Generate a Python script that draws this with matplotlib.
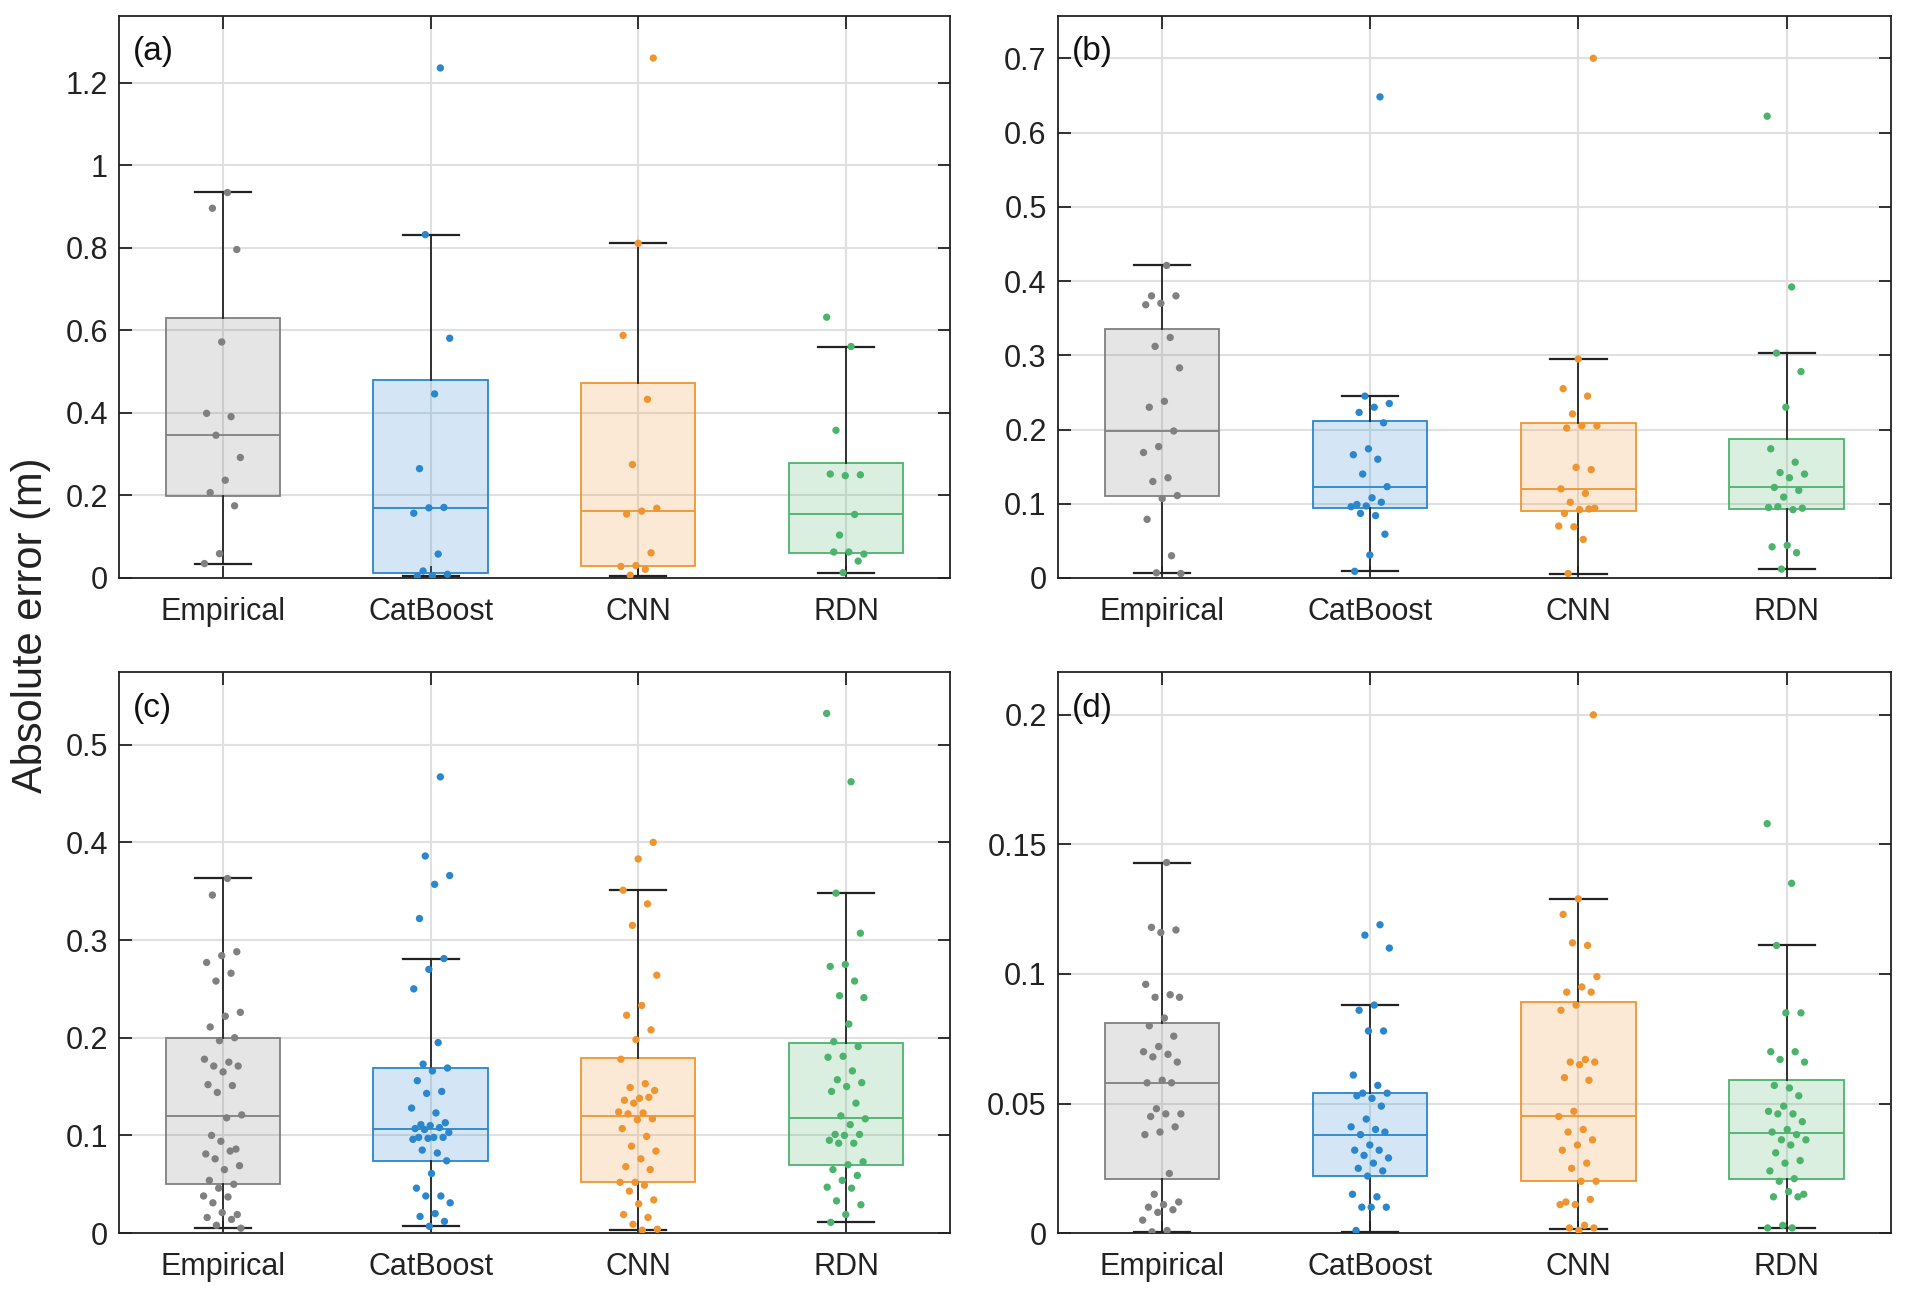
import numpy as np
import matplotlib
matplotlib.use('Agg')
import matplotlib.pyplot as plt
from matplotlib.ticker import FuncFormatter

plt.rcParams['font.family'] = ['Liberation Sans', 'DejaVu Sans']

groups = ['Empirical', 'CatBoost', 'CNN', 'RDN']
tags = ['(a)', '(b)', '(c)', '(d)']
colors = ['#808080', '#2A86CD', '#EF9530', '#4CB36C']

# ---- panel (a) ----
a_emp = [0.934, 0.896, 0.796, 0.572, 0.399, 0.391, 0.346, 0.292, 0.237, 0.207, 0.175, 0.059, 0.035]
a_cat = [1.236, 0.832, 0.581, 0.446, 0.265, 0.171, 0.170, 0.157, 0.058, 0.017, 0.009, 0.006, 0.005]
a_cnn = [1.260, 0.811, 0.588, 0.433, 0.275, 0.169, 0.162, 0.155, 0.061, 0.030, 0.028, 0.021, 0.007]
a_rdn = [0.632, 0.561, 0.358, 0.250, 0.248, 0.252, 0.154, 0.104, 0.058, 0.063, 0.063, 0.041, 0.013]
a_q1 = [0.199, 0.012, 0.029, 0.060]
a_med = [0.346, 0.170, 0.162, 0.154]
a_q3 = [0.629, 0.480, 0.473, 0.279]
a_lo = [0.035, 0.006, 0.006, 0.013]
a_hi = [0.935, 0.832, 0.811, 0.561]

# ---- panel (b) ----
b_emp = [0.421, 0.380, 0.380, 0.370, 0.368, 0.324, 0.312, 0.283, 0.238, 0.230, 0.198,
         0.177, 0.169, 0.135, 0.130, 0.111, 0.107, 0.079, 0.030, 0.007, 0.006]
b_cat = [0.648, 0.245, 0.235, 0.230, 0.223, 0.209, 0.174, 0.166, 0.160, 0.140, 0.123,
         0.108, 0.099, 0.102, 0.097, 0.096, 0.084, 0.087, 0.059, 0.031, 0.009]
b_cnn = [0.700, 0.295, 0.255, 0.245, 0.221, 0.205, 0.205, 0.202, 0.146, 0.149, 0.120,
         0.114, 0.102, 0.094, 0.092, 0.087, 0.093, 0.069, 0.070, 0.052, 0.006]
b_rdn = [0.622, 0.392, 0.303, 0.278, 0.230, 0.174, 0.156, 0.142, 0.140, 0.135, 0.122,
         0.118, 0.109, 0.095, 0.092, 0.096, 0.094, 0.044, 0.042, 0.034, 0.012]
b_q1 = [0.110, 0.094, 0.090, 0.093]
b_med = [0.198, 0.123, 0.120, 0.122]
b_q3 = [0.335, 0.212, 0.209, 0.187]
b_lo = [0.007, 0.009, 0.006, 0.012]
b_hi = [0.421, 0.245, 0.295, 0.303]

# ---- panel (c) ----
c_emp = [0.363, 0.346, 0.288, 0.284, 0.277, 0.266, 0.258, 0.226, 0.222, 0.211, 0.200,
         0.197, 0.178, 0.175, 0.171, 0.171, 0.165, 0.152, 0.151, 0.144, 0.121, 0.118,
         0.100, 0.086, 0.094, 0.081, 0.084, 0.076, 0.069, 0.065, 0.054, 0.050, 0.046,
         0.038, 0.037, 0.031, 0.019, 0.021, 0.016, 0.014, 0.008, 0.005]
c_cat = [0.467, 0.386, 0.366, 0.357, 0.322, 0.281, 0.270, 0.250, 0.195, 0.173, 0.169,
         0.166, 0.156, 0.145, 0.143, 0.128, 0.123, 0.111, 0.113, 0.110, 0.107, 0.108,
         0.106, 0.103, 0.098, 0.098, 0.098, 0.097, 0.096, 0.082, 0.085, 0.074, 0.061,
         0.046, 0.038, 0.038, 0.031, 0.020, 0.017, 0.012, 0.007]
c_cnn = [0.400, 0.383, 0.351, 0.337, 0.315, 0.264, 0.233, 0.223, 0.208, 0.198, 0.178,
         0.153, 0.149, 0.146, 0.138, 0.136, 0.139, 0.133, 0.124, 0.123, 0.122, 0.117,
         0.116, 0.107, 0.099, 0.089, 0.084, 0.076, 0.068, 0.065, 0.052, 0.052, 0.049,
         0.043, 0.034, 0.030, 0.019, 0.016, 0.009, 0.004, 0.003]
c_rdn = [0.532, 0.462, 0.348, 0.307, 0.275, 0.273, 0.258, 0.243, 0.241, 0.214, 0.196,
         0.191, 0.181, 0.180, 0.166, 0.157, 0.154, 0.150, 0.145, 0.133, 0.120, 0.117,
         0.111, 0.101, 0.101, 0.100, 0.095, 0.092, 0.092, 0.073, 0.070, 0.065, 0.059,
         0.054, 0.047, 0.046, 0.033, 0.029, 0.019, 0.011]
c_q1 = [0.050, 0.074, 0.052, 0.070]
c_med = [0.120, 0.107, 0.120, 0.118]
c_q3 = [0.200, 0.169, 0.179, 0.195]
c_lo = [0.005, 0.007, 0.003, 0.011]
c_hi = [0.363, 0.281, 0.351, 0.348]

# ---- panel (d) ----
d_emp = [0.143, 0.118, 0.117, 0.116, 0.096, 0.092, 0.091, 0.091, 0.083, 0.080, 0.076,
         0.072, 0.070, 0.069, 0.068, 0.066, 0.059, 0.058, 0.058, 0.048, 0.046, 0.046,
         0.045, 0.041, 0.039, 0.038, 0.023, 0.015, 0.012, 0.011, 0.010, 0.009, 0.008,
         0.005, 0.001, 0.0005]
d_cat = [0.119, 0.115, 0.110, 0.088, 0.086, 0.078, 0.078, 0.061, 0.057, 0.054, 0.054,
         0.052, 0.053, 0.049, 0.044, 0.041, 0.040, 0.038, 0.039, 0.034, 0.032, 0.032,
         0.030, 0.029, 0.027, 0.025, 0.024, 0.022, 0.015, 0.014, 0.010, 0.010, 0.010,
         0.001]
d_cnn = [0.200, 0.129, 0.123, 0.111, 0.112, 0.099, 0.095, 0.093, 0.093, 0.088, 0.086,
         0.067, 0.066, 0.066, 0.065, 0.060, 0.059, 0.047, 0.045, 0.040, 0.039, 0.036,
         0.034, 0.032, 0.027, 0.025, 0.020, 0.020, 0.012, 0.013, 0.011, 0.011, 0.003,
         0.002, 0.002, 0.001]
d_rdn = [0.158, 0.135, 0.111, 0.085, 0.085, 0.070, 0.070, 0.067, 0.066, 0.056, 0.057,
         0.053, 0.049, 0.047, 0.046, 0.046, 0.043, 0.040, 0.039, 0.038, 0.036, 0.036,
         0.034, 0.031, 0.028, 0.027, 0.024, 0.021, 0.020, 0.015, 0.016, 0.014, 0.014,
         0.003, 0.002, 0.002]
d_q1 = [0.021, 0.022, 0.020, 0.021]
d_med = [0.058, 0.038, 0.045, 0.0385]
d_q3 = [0.081, 0.054, 0.089, 0.059]
d_lo = [0.0005, 0.0005, 0.0016, 0.002]
d_hi = [0.143, 0.088, 0.129, 0.111]

panels = [
    ([a_emp, a_cat, a_cnn, a_rdn], a_q1, a_med, a_q3, a_lo, a_hi, 1.362, np.arange(0, 1.21, 0.2)),
    ([b_emp, b_cat, b_cnn, b_rdn], b_q1, b_med, b_q3, b_lo, b_hi, 0.757, np.arange(0, 0.71, 0.1)),
    ([c_emp, c_cat, c_cnn, c_rdn], c_q1, c_med, c_q3, c_lo, c_hi, 0.574, np.arange(0, 0.51, 0.1)),
    ([d_emp, d_cat, d_cnn, d_rdn], d_q1, d_med, d_q3, d_lo, d_hi, 0.2164, np.arange(0, 0.201, 0.05)),
]

rects = [[0.0624, 0.5547, 0.436, 0.433], [0.555, 0.5547, 0.437, 0.433],
         [0.0624, 0.0500, 0.436, 0.432], [0.555, 0.0500, 0.437, 0.432]]

FS = 22
fig = plt.figure(figsize=(19.06, 12.98), dpi=100)

for k, (pts, q1, med, q3, lo, hi, ytop, yt) in enumerate(panels):
    ax = fig.add_axes(rects[k])
    ax.set_axisbelow(True)
    ax.grid(True, color='#e0e0e0', lw=1.5)

    xs = np.arange(1, 5)
    for i in range(4):
        col = colors[i]
        st = [dict(med=med[i], q1=q1[i], q3=q3[i], whislo=lo[i], whishi=hi[i], fliers=[])]
        ax.bxp(st, positions=[xs[i]], widths=0.55, patch_artist=True, showfliers=False,
               boxprops=dict(facecolor=matplotlib.colors.to_rgba(col, 0.2), edgecolor=col, lw=1.3),
               medianprops=dict(color=col, lw=1.3),
               whiskerprops=dict(color='#222222', lw=1.3),
               capprops=dict(color='#222222', lw=1.6), capwidths=0.27)
        # deterministic jitter (golden-ratio sequence)
        n = len(pts[i])
        jit = (((np.arange(n) + 1) * 0.6180339887 + 0.13 * i) % 1.0 - 0.5) * 0.19
        ax.scatter(xs[i] + jit, pts[i], s=28, color=col, edgecolors='none', zorder=5)

    ax.set_xlim(0.5, 4.5)
    ax.set_ylim(0, ytop)
    ax.set_xticks(xs)
    ax.set_xticklabels(groups)
    ax.set_yticks(yt)
    ax.yaxis.set_major_formatter(FuncFormatter(lambda v, p: '%g' % round(v, 6)))
    ax.tick_params(direction='in', length=9, width=1.3, labelsize=FS,
                   top=True, right=True, colors='#222222', labelcolor='#222222')
    ax.tick_params(axis='x', pad=13.5)
    ax.tick_params(axis='y', pad=8)
    for sp in ax.spines.values():
        sp.set_linewidth(1.3)
        sp.set_color('#222222')
    ax.text(0.017, 0.936, tags[k], transform=ax.transAxes, fontsize=24,
            ha='left', va='center', color='#111111')

fig.text(0.0163, 0.518, 'Absolute error (m)', rotation=90, fontsize=30,
         ha='center', va='center', color='#222222')

fig.savefig('out.png', dpi=100)
